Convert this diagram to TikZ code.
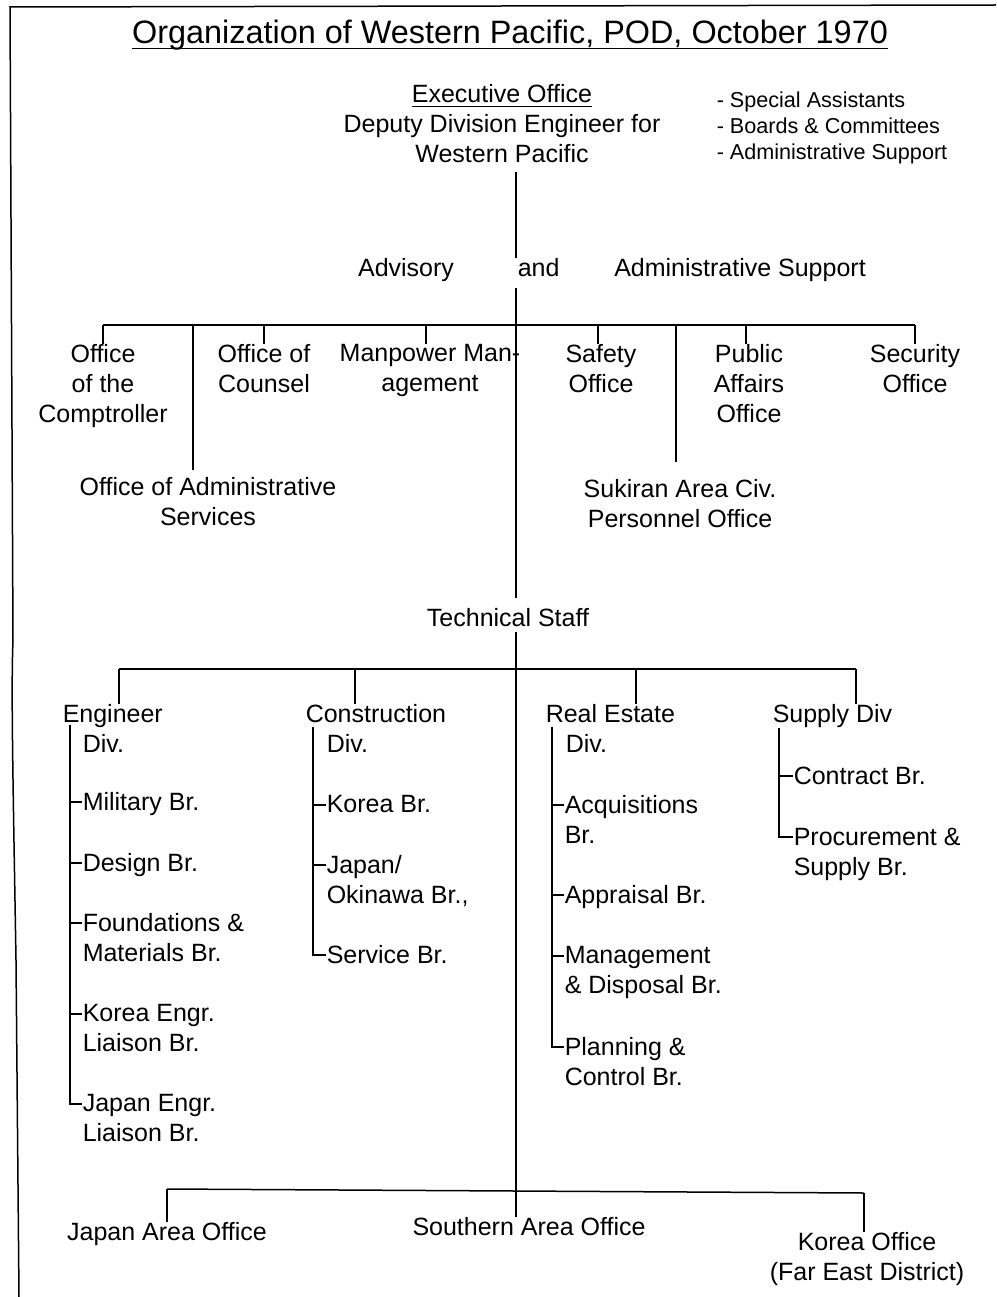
\documentclass[tikz,border=0pt]{standalone}
\usepackage{fontspec}
\setmainfont{Liberation Sans}
\newcommand\bodyfont{\fontsize{25}{30}\selectfont}
\newcommand\listfont{\fontsize{21.6}{26}\selectfont}
\newcommand\titlefont{\fontsize{32.4}{38}\selectfont}
\newcommand\myul[2][-4.5pt]{\setbox0=\hbox{#2}\mbox{\rlap{\rule[#1]{\wd0}{1.5pt}}\box0}}
\begin{document}
\begin{tikzpicture}[x=1pt,y=-1pt,line width=1.5pt,
  lbl/.style={inner sep=0pt,font=\bodyfont,align=center,anchor=north},
  item/.style={inner sep=0pt,font=\bodyfont,align=left,anchor=north west}]
\useasboundingbox (0,0) rectangle (996,1297);
% frame
\draw (996,5) -- (10,7) -- (13,640) .. controls (11,690) and (13,780) .. (16,960) -- (19,1297);
% title
\node[inner sep=0pt,font=\titlefont,anchor=base] (title) at (510,44) {\myul[-5.5pt]{Organization of Western Pacific, POD, October 1970}};
% executive
\node[lbl] (exec) at (502,84) {\myul{Executive Office}\\Deputy Division Engineer for\\Western Pacific};
\node[inner sep=0pt,font=\listfont,align=left,anchor=north west] (list) at (716,91) {- Special Assistants\\- Boards \& Committees\\- Administrative Support};
% advisory line
\node[lbl] (adv) at (406,258) {Advisory};
\node[inner sep=0pt,font=\bodyfont,anchor=north west] (and) at (517,258) {and};
\node[lbl] (ads) at (740,258) {Administrative Support};
\coordinate (trunk) at (516,325);
\path ([yshift=-8pt]exec.south) coordinate (exec-b);
\path ([yshift=-10pt]and.south) coordinate (and-b);
% staff offices
\node[lbl] (comp) at (103,344) {Office\\of the\\Comptroller};
\node[lbl] (adms) at (208,477) {Office of Administrative\\Services};
\node[lbl] (coun) at (264,344) {Office of\\Counsel};
\node[lbl] (manp) at (430,344) {Manpower Man-\\agement};
\node[lbl] (safe) at (601,344) {Safety\\Office};
\node[lbl] (suk) at (680,479) {Sukiran Area Civ.\\Personnel Office};
\node[lbl] (pub) at (749,344) {Public\\Affairs\\Office};
\node[lbl] (sec) at (915,344) {Security\\Office};
\node[lbl] (tech) at (508,608) {Technical Staff};
\path ([yshift=10pt]tech.north) coordinate (tech-t);
\path ([yshift=-4pt]tech.south) coordinate (tech-b);
% trunk
\draw (exec-b -| trunk) -- (and.north -| trunk);
\draw (and-b -| trunk) -- (tech-t -| trunk);
% upper bar and drops
\draw (comp.north |- trunk) -- (sec.north |- trunk);
\path (adms.north) ++(-15,-7) coordinate (adms-t);
\path (suk.north) ++(-4,-17) coordinate (suk-t);
\path (manp.north) ++(-4,0) coordinate (manp-t);
\path (safe.north) ++(-3,0) coordinate (safe-t);
\path (pub.north) ++(-3,0) coordinate (pub-t);
\foreach \n in {comp,coun,sec} {\draw (\n.north |- trunk) -- (\n.north);}
\foreach \n in {adms,suk,manp,safe,pub} {\draw (\n-t |- trunk) -- (\n-t);}
% technical divisions
\coordinate (bar2) at (516,669);
\node[item] (eng) at (62,704) {Engineer\\\hspace*{20pt}Div.};
\node[item] (con) at (305,704) {Construction\\\hspace*{21pt}Div.};
\node[item] (rea) at (545,704) {Real Estate\\\hspace*{20pt}Div.};
\node[item] (sup) at (772,704) {Supply Div};
\path (eng.north west) ++(57,0) coordinate (eng-d) ++(-49,21) coordinate (eng-s);
\path (con.north west) ++(50,0) coordinate (con-d) ++(-42,23) coordinate (con-s);
\path (rea.north west) ++(91,0) coordinate (rea-d) ++(-84,23) coordinate (rea-s);
\path (sup.north west) ++(84,0) coordinate (sup-d) ++(-77,24) coordinate (sup-s);
\draw (tech-b -| trunk) -- (bar2);
\draw (eng-d |- bar2) -- (sup-d |- bar2);
\foreach \n in {eng,con,rea,sup} {\draw (\n-d |- bar2) -- (\n-d);}
% engineer branches
\node[item] (mil) at (82,792) {Military Br.};
\node[item] (des) at (82,853) {Design Br.};
\node[item] (fou) at (82,913) {Foundations \&\\Materials Br.};
\node[item] (kel) at (82,1004) {Korea Engr.\\Liaison Br.};
\node[item] (jel) at (82,1094) {Japan Engr.\\Liaison Br.};
% construction branches
\node[item] (kor) at (326,795) {Korea Br.};
\node[item] (jok) at (326,855) {Japan/\\Okinawa Br.,};
\node[item] (ser) at (326,945) {Service Br.};
% real estate branches
\node[item] (acq) at (564,795) {Acquisitions\\Br.};
\node[item] (app) at (564,885) {Appraisal Br.};
\node[item] (man) at (564,946) {Management\\\& Disposal Br.};
\node[item] (pla) at (564,1037) {Planning \&\\Control Br.};
% supply branches
\node[item] (ctr) at (793,766) {Contract Br.};
\node[item] (pro) at (793,827) {Procurement \&\\Supply Br.};
\foreach \n in {mil,des,fou,kel,jel,kor,jok,ser,acq,app,man,pla,ctr,pro}
  {\path ([yshift=-10pt]\n.north west) coordinate (\n-t);}
\foreach \n in {mil,des,fou,kel} {\draw (\n-t) -- (eng-s |- \n-t);}
\draw (eng-s) |- (jel-t);
\foreach \n in {kor,jok} {\draw (\n-t) -- (con-s |- \n-t);}
\draw (con-s) |- (ser-t);
\foreach \n in {acq,app,man} {\draw (\n-t) -- (rea-s |- \n-t);}
\draw (rea-s) |- (pla-t);
\draw (ctr-t) -- (sup-s |- ctr-t);
\draw (sup-s) |- (pro-t);
% area offices
\node[lbl] (jao) at (167,1222) {Japan Area Office};
\node[lbl] (soa) at (529,1217) {Southern Area Office};
\node[lbl] (ko) at (867,1232) {Korea Office\\(Far East District)};
\path (jao.north) ++(0,-33) coordinate (jao-b);
\path (ko.north) ++(-3,-39) coordinate (ko-b);
\draw (bar2) -- (soa.north -| trunk);
\draw (jao-b) -- (ko-b);
\draw (jao-b) -- (jao.north);
\draw (ko-b) -- (ko.north -| ko-b);
\end{tikzpicture}
\end{document}
